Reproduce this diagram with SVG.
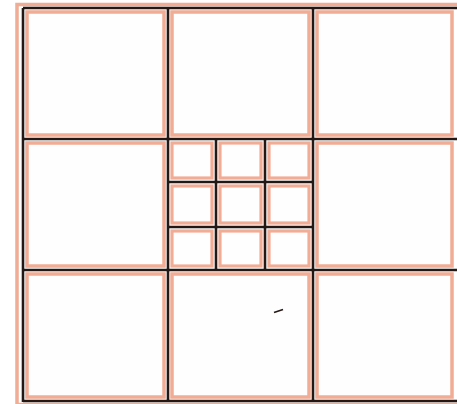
<svg xmlns="http://www.w3.org/2000/svg" width="457" height="404" viewBox="0 0 457 404">
<style>
.cell{fill:#fefefe;stroke:#f0ac94;stroke-width:3.5}
.sm{fill:#fefefe;stroke:#f0ac94;stroke-width:3.2}
.grid{stroke:#231814;stroke-width:2.6;fill:none}
.frame{fill:none;stroke:#f0ac94;stroke-width:3.5}
</style>
<rect width="457" height="404" fill="#ffffff"/>
<rect class="frame" x="17" y="4.5" width="460" height="400"/>
<g id="cells">
<rect id="c11" class="cell" x="27" y="12" width="137" height="123"/>
<rect id="c12" class="cell" x="172" y="12" width="137" height="123"/>
<rect id="c13" class="cell" x="317" y="12" width="135" height="123"/>
<rect id="c21" class="cell" x="27" y="143" width="137" height="123"/>
<rect id="c23" class="cell" x="317" y="143" width="135" height="123"/>
<rect id="c31" class="cell" x="27" y="274" width="137" height="123"/>
<rect id="c32" class="cell" x="172" y="274" width="137" height="123"/>
<rect id="c33" class="cell" x="317" y="274" width="135" height="123"/>
</g>
<g id="center">
<rect class="sm" x="172" y="143" width="40" height="35"/>
<rect class="sm" x="220" y="143" width="41" height="35"/>
<rect class="sm" x="269" y="143" width="40" height="35"/>
<rect class="sm" x="172" y="186" width="40" height="37"/>
<rect class="sm" x="220" y="186" width="41" height="37"/>
<rect class="sm" x="269" y="186" width="40" height="37"/>
<rect class="sm" x="172" y="231" width="40" height="35"/>
<rect class="sm" x="220" y="231" width="41" height="35"/>
<rect class="sm" x="269" y="231" width="40" height="35"/>
</g>
<g id="grid" class="grid">
<path d="M23 8H457M23 139H457M23 270H457M23 401H457"/>
<path d="M23 8V402M168 8V402M313 8V402"/>
<path d="M216 139V270M265 139V270M168 182H313M168 227H313"/>
</g>
<line x1="274" y1="312.5" x2="283" y2="309.5" stroke="#231814" stroke-width="1.6"/>
</svg>
